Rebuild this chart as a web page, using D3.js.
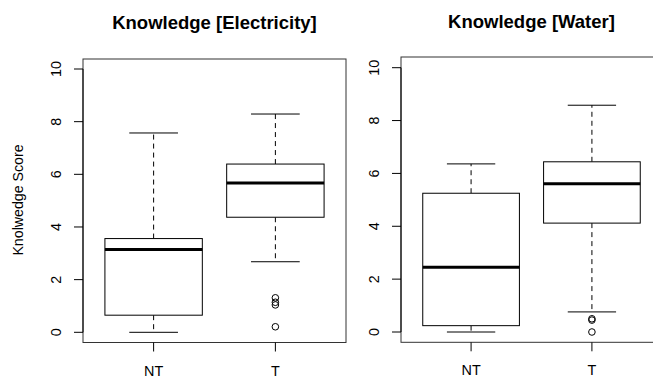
<!DOCTYPE html>
<html>
<head>
<meta charset="utf-8">
<script src="https://cdn.jsdelivr.net/npm/d3@7"></script>
<style>
  body { margin: 0; background: #fff; }
  svg { display: block; font-family: "Liberation Sans", Arial, sans-serif; }
</style>
</head>
<body>
<div id="chart-area"></div>
<script>
// box statistics
var groups = ["NT", "T"];
var yTicks = [0, 2, 4, 6, 8, 10];

var elecLow    = [0.00, 2.68];
var elecQ1     = [0.65, 4.37];
var elecMedian = [3.14, 5.67];
var elecQ3     = [3.56, 6.39];
var elecHigh   = [7.57, 8.29];
var elecOut    = [[], [1.31, 1.14, 1.04, 0.21]];

var waterLow    = [0.00, 0.76];
var waterQ1     = [0.24, 4.12];
var waterMedian = [2.45, 5.61];
var waterQ3     = [5.25, 6.44];
var waterHigh   = [6.36, 8.58];
var waterOut    = [[], [0.50, 0.45, 0.00]];

var svg = d3.select("#chart-area")
  .append("svg")
  .attr("width", 653)
  .attr("height", 377);

function panel(opts) {
  var x = d3.scaleLinear().domain([0.42, 2.58]).range([opts.left, opts.right]);
  var y = d3.scaleLinear().domain([0, 10]).range([opts.y0, opts.y10]);
  var g = svg.append("g");

  var stats = groups.map(function(name, i) {
    return {name: name, pos: i + 1, low: opts.low[i], q1: opts.q1[i], med: opts.med[i],
            q3: opts.q3[i], high: opts.high[i], out: opts.out[i]};
  });
  var half = (x(1.4) - x(1)) ;
  var cap = half / 2;

  var box = g.selectAll(".box").data(stats).enter().append("g");

  // whiskers
  box.append("line")
    .attr("x1", function(d) { return x(d.pos); }).attr("x2", function(d) { return x(d.pos); })
    .attr("y1", function(d) { return y(d.q3); }).attr("y2", function(d) { return y(d.high); })
    .attr("stroke", "#000").attr("stroke-dasharray", "5,4");
  box.append("line")
    .attr("x1", function(d) { return x(d.pos); }).attr("x2", function(d) { return x(d.pos); })
    .attr("y1", function(d) { return y(d.q1); }).attr("y2", function(d) { return y(d.low); })
    .attr("stroke", "#000").attr("stroke-dasharray", "5,4");
  box.append("line")
    .attr("x1", function(d) { return x(d.pos) - cap; }).attr("x2", function(d) { return x(d.pos) + cap; })
    .attr("y1", function(d) { return y(d.high); }).attr("y2", function(d) { return y(d.high); })
    .attr("stroke", "#000");
  box.append("line")
    .attr("x1", function(d) { return x(d.pos) - cap; }).attr("x2", function(d) { return x(d.pos) + cap; })
    .attr("y1", function(d) { return y(d.low); }).attr("y2", function(d) { return y(d.low); })
    .attr("stroke", "#000");

  box.append("rect")
    .attr("x", function(d) { return x(d.pos) - half; })
    .attr("width", half * 2)
    .attr("y", function(d) { return y(d.q3); })
    .attr("height", function(d) { return y(d.q1) - y(d.q3); })
    .attr("fill", "#fff").attr("stroke", "#000");

  box.append("line")
    .attr("x1", function(d) { return x(d.pos) - half; }).attr("x2", function(d) { return x(d.pos) + half; })
    .attr("y1", function(d) { return y(d.med); }).attr("y2", function(d) { return y(d.med); })
    .attr("stroke", "#000").attr("stroke-width", 3);

  box.selectAll("circle").data(function(d) { return d.out.map(function(v) { return {pos: d.pos, v: v}; }); })
    .enter().append("circle")
    .attr("cx", function(d) { return x(d.pos); })
    .attr("cy", function(d) { return y(d.v); })
    .attr("r", 3.3)
    .attr("fill", "none").attr("stroke", "#000");

  // frame
  g.append("rect")
    .attr("x", opts.left).attr("y", opts.top)
    .attr("width", opts.right - opts.left).attr("height", opts.bottom - opts.top)
    .attr("fill", "none").attr("stroke", "#333");

  // y axis
  var ya = g.append("g").attr("transform", "translate(" + opts.left + ",0)");
  ya.append("line").attr("x1", 0).attr("x2", 0).attr("y1", y(0)).attr("y2", y(10)).attr("stroke", "#000");
  ya.selectAll(".tk").data(yTicks).enter().append("line")
    .attr("x1", -9).attr("x2", 0)
    .attr("y1", function(d) { return y(d); }).attr("y2", function(d) { return y(d); })
    .attr("stroke", "#000");
  ya.selectAll("text").data(yTicks).enter().append("text")
    .attr("transform", function(d) { return "translate(-27," + y(d) + ") rotate(-90)"; })
    .attr("text-anchor", "middle").attr("dy", "0.35em")
    .attr("font-size", 14.4).text(function(d) { return d; });

  // x axis
  var xa = g.append("g");
  xa.selectAll("line").data(stats).enter().append("line")
    .attr("x1", function(d) { return x(d.pos); }).attr("x2", function(d) { return x(d.pos); })
    .attr("y1", opts.bottom).attr("y2", opts.bottom + 9)
    .attr("stroke", "#000");
  xa.selectAll("text").data(stats).enter().append("text")
    .attr("x", function(d) { return x(d.pos); })
    .attr("y", opts.bottom + 33)
    .attr("text-anchor", "middle").attr("font-size", 14.4)
    .text(function(d) { return d.name; });

  g.append("text")
    .attr("x", (opts.left + opts.right) / 2).attr("y", opts.titleY)
    .attr("text-anchor", "middle").attr("font-size", 18.5).attr("font-weight", "bold")
    .text(opts.title);
}

panel({title: "Knowledge [Electricity]", left: 83, right: 346, top: 59, bottom: 342.5,
       y0: 332.3, y10: 69, titleY: 29,
       low: elecLow, q1: elecQ1, med: elecMedian, q3: elecQ3, high: elecHigh, out: elecOut});
panel({title: "Knowledge [Water]", left: 401, right: 662, top: 57, bottom: 342.3,
       y0: 332, y10: 67.7, titleY: 28,
       low: waterLow, q1: waterQ1, med: waterMedian, q3: waterQ3, high: waterHigh, out: waterOut});

svg.append("text")
  .attr("transform", "translate(18,200) rotate(-90)")
  .attr("text-anchor", "middle").attr("dy", "0.35em")
  .attr("font-size", 14.2)
  .text("Knolwedge Score");
</script>
</body>
</html>
